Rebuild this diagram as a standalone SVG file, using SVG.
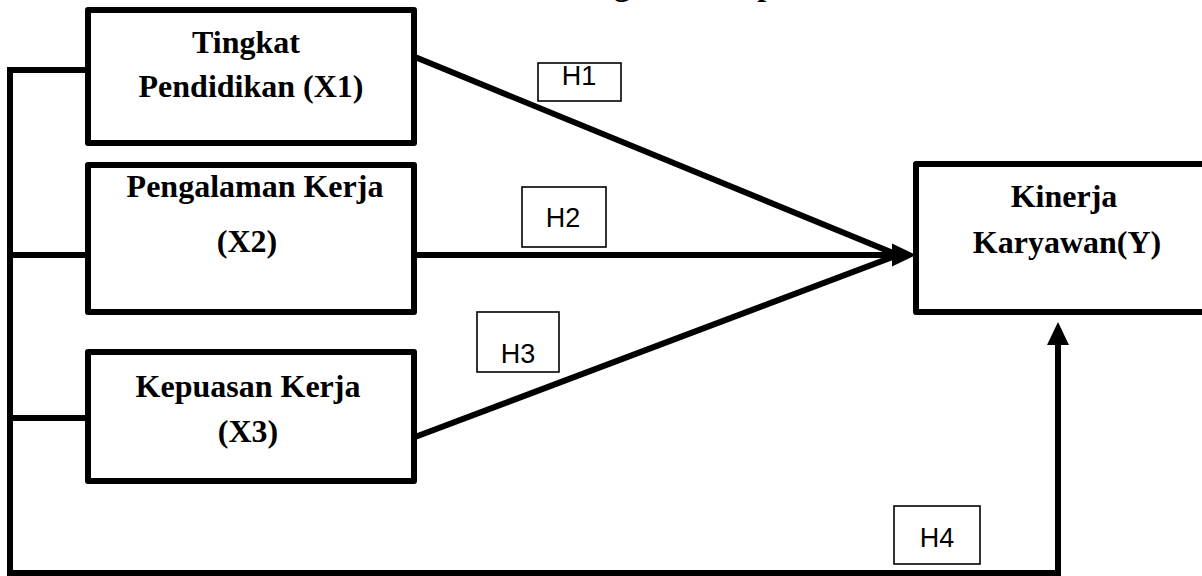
<svg xmlns="http://www.w3.org/2000/svg" width="1202" height="576" viewBox="0 0 1202 576">
<style>
.node{fill:#fff;stroke:#000;stroke-width:6;stroke-linejoin:round}
.nt{font-family:"Liberation Serif","Times New Roman",serif;font-weight:bold;font-size:32px;fill:#000;text-anchor:middle}
.ln{fill:none;stroke:#000;stroke-width:6}
.hb{fill:#fff;stroke:#000;stroke-width:1.6}
.ht{font-family:"Liberation Sans",Arial,sans-serif;font-size:27px;fill:#000;text-anchor:middle}
</style>
<rect width="1202" height="576" fill="#fff"/>
<text class="nt" x="527" y="-5" style="text-anchor:start">Kerangka Konseptual</text>
<g id="connectors">
<path class="ln" d="M88,70 H10 V573 H1058 V340"/>
<path class="ln" d="M10,255 H88"/>
<path class="ln" d="M10,418 H88"/>
<path class="ln" d="M415,57 L898,255"/>
<path class="ln" d="M415,255 H896"/>
<path class="ln" d="M415,437 L898,255"/>
<polygon points="916,255 892,243.5 892,266.5" fill="#000"/>
<polygon points="1058,322 1047,345 1069,345" fill="#000"/>
</g>
<g id="x1">
<rect class="node" x="88" y="10" width="326" height="133"/>
<text class="nt" x="246" y="53">Tingkat</text>
<text class="nt" x="251" y="97">Pendidikan (X1)</text>
</g>
<g id="x2">
<rect class="node" x="88" y="165" width="326" height="147"/>
<text class="nt" x="255" y="197">Pengalaman Kerja</text>
<text class="nt" x="247" y="252">(X2)</text>
</g>
<g id="x3">
<rect class="node" x="88" y="352" width="326" height="129"/>
<text class="nt" x="248" y="397">Kepuasan Kerja</text>
<text class="nt" x="248" y="442">(X3)</text>
</g>
<g id="y">
<rect class="node" x="916" y="164" width="300" height="148"/>
<text class="nt" x="1064" y="207">Kinerja</text>
<text class="nt" x="1067" y="253">Karyawan(Y)</text>
</g>
<g id="h1">
<rect class="hb" x="538" y="63" width="83" height="38"/>
<text class="ht" x="579" y="85">H1</text>
</g>
<g id="h2">
<rect class="hb" x="522" y="187" width="84" height="60"/>
<text class="ht" x="563" y="227">H2</text>
</g>
<g id="h3">
<rect class="hb" x="477" y="312" width="82" height="60"/>
<text class="ht" x="518" y="363">H3</text>
</g>
<g id="h4">
<rect class="hb" x="894" y="506" width="86" height="58"/>
<text class="ht" x="937" y="547">H4</text>
</g>
</svg>
